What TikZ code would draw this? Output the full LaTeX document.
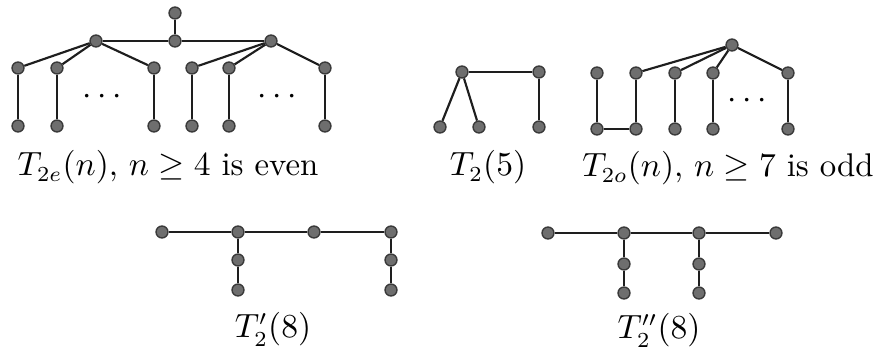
\documentclass[tikz,border=0pt]{standalone}
\usepackage{tikz}
\usetikzlibrary{positioning}
\definecolor{vtxFill}{HTML}{6E6E6E}
\definecolor{vtxLine}{HTML}{3A3A3A}
\definecolor{edgeLine}{HTML}{1E1E1E}

\begin{document}
\begin{tikzpicture}[
  x=0.326pt, y=-0.326pt,
  vtx/.style={circle, draw=vtxLine, fill=vtxFill, line width=0.45pt, inner sep=0pt, minimum size=3.9pt},
  edge/.style={draw=edgeLine, line width=0.7pt},
  treeCap/.style={anchor=base, inner sep=0pt, font=\fontsize{10.7}{13}\selectfont}
]
  \useasboundingbox (0,0) rectangle (882,356);

  % T_{2e}(n)
  \node[vtx] (eTop) at (175,13) {};
  \node[vtx] (eMid) at (175,41) {};
  \node[vtx] (eHubL) at (96,41) {};
  \node[vtx] (eHubR) at (271,41) {};
  \node[vtx] (eA1) at (18,68) {};
  \node[vtx] (eA2) at (57,68) {};
  \node[vtx] (eA3) at (154,68) {};
  \node[vtx] (eA4) at (192,68) {};
  \node[vtx] (eA5) at (229,68) {};
  \node[vtx] (eA6) at (325,68) {};
  \node[vtx] (eB1) at (18,126) {};
  \node[vtx] (eB2) at (57,126) {};
  \node[vtx] (eB3) at (154,126) {};
  \node[vtx] (eB4) at (192,126) {};
  \node[vtx] (eB5) at (229,126) {};
  \node[vtx] (eB6) at (325,126) {};
  \node[font=\fontsize{10.7}{13}\selectfont] (eDotsL) at (102,97) {$\cdots$};
  \node[font=\fontsize{10.7}{13}\selectfont] (eDotsR) at (277,97) {$\cdots$};
  \draw[edge] (eTop) -- (eMid);
  \draw[edge] (eHubL) -- (eMid) -- (eHubR);
  \draw[edge] (eHubL) -- (eA1);
  \draw[edge] (eHubL) -- (eA2);
  \draw[edge] (eHubL) -- (eA3);
  \draw[edge] (eHubR) -- (eA4);
  \draw[edge] (eHubR) -- (eA5);
  \draw[edge] (eHubR) -- (eA6);
  \draw[edge] (eA1) -- (eB1);
  \draw[edge] (eA2) -- (eB2);
  \draw[edge] (eA3) -- (eB3);
  \draw[edge] (eA4) -- (eB4);
  \draw[edge] (eA5) -- (eB5);
  \draw[edge] (eA6) -- (eB6);
  \node[treeCap] (eCap) at (168,176) {$T_{2e}(n)$, $n\geq 4$ is even};

  % T_2(5)
  \node[vtx] (fHub) at (462,72) {};
  \node[vtx] (fTop) at (539,72) {};
  \node[vtx] (fB1) at (440,127) {};
  \node[vtx] (fB2) at (479,127) {};
  \node[vtx] (fB3) at (539,127) {};
  \draw[edge] (fHub) -- (fTop);
  \draw[edge] (fHub) -- (fB1);
  \draw[edge] (fHub) -- (fB2);
  \draw[edge] (fTop) -- (fB3);
  \node[treeCap] (fCap) at (488,176) {$T_2(5)$};

  % T_{2o}(n)
  \node[vtx] (oHub) at (732,45) {};
  \node[vtx] (oA1) at (597,73) {};
  \node[vtx] (oA2) at (636,73) {};
  \node[vtx] (oA3) at (675,73) {};
  \node[vtx] (oA4) at (713,73) {};
  \node[vtx] (oA5) at (788,73) {};
  \node[vtx] (oB1) at (597,129) {};
  \node[vtx] (oB2) at (636,129) {};
  \node[vtx] (oB3) at (675,129) {};
  \node[vtx] (oB4) at (713,129) {};
  \node[vtx] (oB5) at (788,129) {};
  \node[font=\fontsize{10.7}{13}\selectfont] (oDots) at (747,101) {$\cdots$};
  \draw[edge] (oHub) -- (oA2);
  \draw[edge] (oHub) -- (oA3);
  \draw[edge] (oHub) -- (oA4);
  \draw[edge] (oHub) -- (oA5);
  \draw[edge] (oA1) -- (oB1) -- (oB2) -- (oA2);
  \draw[edge] (oA3) -- (oB3);
  \draw[edge] (oA4) -- (oB4);
  \draw[edge] (oA5) -- (oB5);
  \node[treeCap] (oCap) at (728,177) {$T_{2o}(n)$, $n\geq 7$ is odd};

  % T_2'(8)
  \node[vtx] (pT1) at (162,232) {};
  \node[vtx] (pT2) at (238,232) {};
  \node[vtx] (pT3) at (314,232) {};
  \node[vtx] (pT4) at (391,232) {};
  \node[vtx] (pM1) at (238,260) {};
  \node[vtx] (pB1) at (238,290) {};
  \node[vtx] (pM2) at (391,260) {};
  \node[vtx] (pB2) at (391,290) {};
  \draw[edge] (pT1) -- (pT2) -- (pT3) -- (pT4);
  \draw[edge] (pT2) -- (pM1) -- (pB1);
  \draw[edge] (pT4) -- (pM2) -- (pB2);
  \node[treeCap] (pCap) at (273,338) {$T_2'(8)$};

  % T_2''(8)
  \node[vtx] (qT1) at (548,233) {};
  \node[vtx] (qT2) at (624,233) {};
  \node[vtx] (qT3) at (699,233) {};
  \node[vtx] (qT4) at (776,233) {};
  \node[vtx] (qM1) at (624,264) {};
  \node[vtx] (qB1) at (624,293) {};
  \node[vtx] (qM2) at (699,264) {};
  \node[vtx] (qB2) at (699,293) {};
  \draw[edge] (qT1) -- (qT2) -- (qT3) -- (qT4);
  \draw[edge] (qT2) -- (qM1) -- (qB1);
  \draw[edge] (qT3) -- (qM2) -- (qB2);
  \node[treeCap] (qCap) at (659,339) {$T_2''(8)$};
\end{tikzpicture}
\end{document}
